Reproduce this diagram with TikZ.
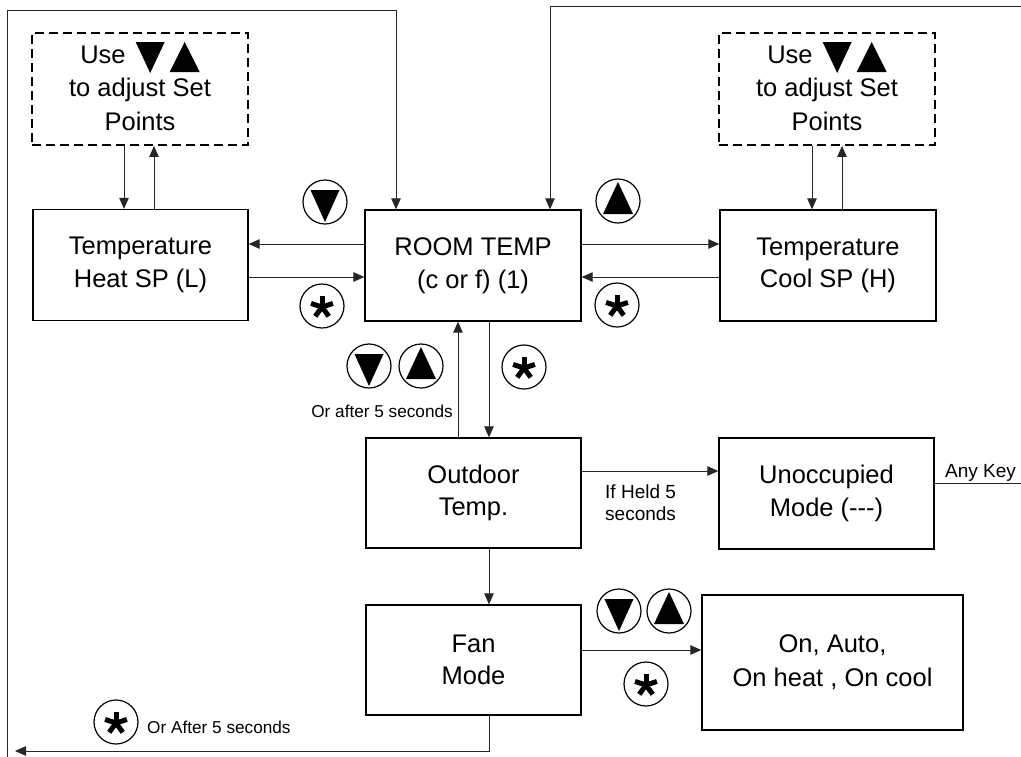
\documentclass[tikz,border=0pt]{standalone}
\usepackage{fontspec}
\setmainfont{Liberation Sans}
\usetikzlibrary{arrows.meta,calc}
\newcommand{\dntri}{\tikz[x=1pt,y=1pt,baseline=0pt]\fill (0,21) -- (29,21) -- (14.5,-10) -- cycle;}
\newcommand{\uptri}{\tikz[x=1pt,y=1pt,baseline=0pt]\fill (0,-9) -- (30,-9) -- (15,21) -- cycle;}
\begin{document}
\begin{tikzpicture}[x=1pt,y=-1pt,
  >={Triangle[length=11pt,width=9.5pt]},
  box/.style={draw, line width=1.3pt, inner sep=0pt, align=center,
    font=\fontsize{25.5}{32.5}\selectfont},
  dbox/.style={box, dash pattern=on 9pt off 5pt, line width=1.8pt,
    minimum width=216pt, minimum height=112pt, font=\fontsize{25.5}{33.5}\selectfont},
  conn/.style={line width=0.9pt, draw=black!85, ->},
  small/.style={inner sep=0pt, font=\fontsize{17.2}{20}\selectfont},
  mid/.style={inner sep=0pt, font=\fontsize{19}{22}\selectfont},
  pics/downkey/.style={code={
    \draw[line width=1.2pt] (0,0) circle[radius=22pt];
    \fill (-14.5,-12) -- (14.5,-12) -- (0,20) -- cycle;}},
  pics/upkey/.style={code={
    \draw[line width=1.2pt] (0,0) circle[radius=22pt];
    \fill (0,-19) -- (-15,13) -- (15,13) -- cycle;}},
  pics/starkey/.style={code={
    \draw[line width=1.2pt] (0,0) circle[radius=22pt];
    \foreach \a in {-90,-18,54,126,198} \draw[line width=5pt] (0,1) -- ++(\a:11.5);}}
]
\useasboundingbox (0,0) rectangle (1021,756);
\fill[white] (0,0) rectangle (1021,756);
\clip (0,0) rectangle (1021,756);

% boxes
\node[dbox] (ld) at (140,89) {Use\hspace{10pt}\dntri\hspace{5pt}\uptri\\to adjust Set\\Points\rule[-6pt]{0pt}{6pt}};
\node[dbox] (rd) at (827,89) {Use\hspace{10pt}\dntri\hspace{5pt}\uptri\\to adjust Set\\Points\rule[-6pt]{0pt}{6pt}};
\node[box, minimum width=215pt, minimum height=111pt] (heat) at (140.5,265) {Temperature\\Heat SP (L)};
\node[box, minimum width=216pt, minimum height=111pt] (room) at (473,265.5) {ROOM TEMP\\(c or f) (1)};
\node[box, minimum width=216pt, minimum height=111pt] (cool) at (828,265.5) {Temperature\\Cool SP (H)};
\node[box, minimum width=215pt, minimum height=110pt] (out) at (473.5,493) {Outdoor\\Temp.};
\node[box, minimum width=215pt, minimum height=111pt] (unocc) at (826.5,493.5) {Unoccupied\\Mode (\mbox{-}\mbox{-}\mbox{-})};
\node[box, minimum width=215pt, minimum height=110pt] (fan) at (473.5,660) {Fan\\Mode};
\node[box, minimum width=261pt, minimum height=135pt, font=\fontsize{25.5}{34}\selectfont] (on) at (832.5,662.5) {On, Auto,\\On heat , On cool};

% connectors
\draw[conn] (ld.south -| 124,0) -- (heat.north -| 124,0);
\draw[conn] (heat.north -| 154,0) -- (ld.south -| 154,0);
\draw[conn] (rd.south -| 812,0) -- (cool.north -| 812,0);
\draw[conn] (cool.north -| 842,0) -- (rd.south -| 842,0);
\draw[conn] (room.west |- 0,244) -- (heat.east |- 0,244);
\draw[conn] (heat.east |- 0,277) -- (room.west |- 0,277);
\draw[conn] (room.east |- 0,244) -- (cool.west |- 0,244);
\draw[conn] (cool.west |- 0,277) -- (room.east |- 0,277);
\draw[conn] (room.south -| 489,0) -- (out.north -| 489,0);
\draw[conn] (out.north -| 458,0) -- (room.south -| 458,0);
\draw[conn] (out.east |- 0,471) -- (unocc.west |- 0,471);
\draw[conn] (out.south -| 489,0) -- (fan.north -| 489,0);
\draw[conn] (fan.east |- 0,650) -- (on.west |- 0,650);
\coordinate (bl) at (15,751);
\draw[conn] (fan.south -| 489,0) |- (bl);
\coordinate (lb) at (7,760);
\draw[conn] (lb) |- (396,10) -- (room.north -| 396,0);
\coordinate (rt) at (1030,6);
\draw[conn] (unocc.east |- 0,483) -| (rt) -- (550,6) -- (room.north -| 550,0);

% key symbols
\pic at (325,202) {downkey};
\pic at (618,201) {upkey};
\pic at (322,306) {starkey};
\pic at (617,305) {starkey};
\pic at (369,366) {downkey};
\pic at (421,366) {upkey};
\pic at (524,367) {starkey};
\pic at (619,611) {downkey};
\pic at (669,611) {upkey};
\pic at (646,684) {starkey};
\pic at (116,722) {starkey};

% labels
\node[small, anchor=base east] (lab1) at (453,417) {Or after 5 seconds};
\node[mid, anchor=base west] (lab2) at (605,498) {If Held 5};
\node[mid, anchor=base west] (lab3) at (605,520) {seconds};
\node[mid, anchor=base west] (lab4) at (945,477) {Any Key};
\node[small, anchor=base west] (lab5) at (147,733) {Or After 5 seconds};
\end{tikzpicture}
\end{document}
